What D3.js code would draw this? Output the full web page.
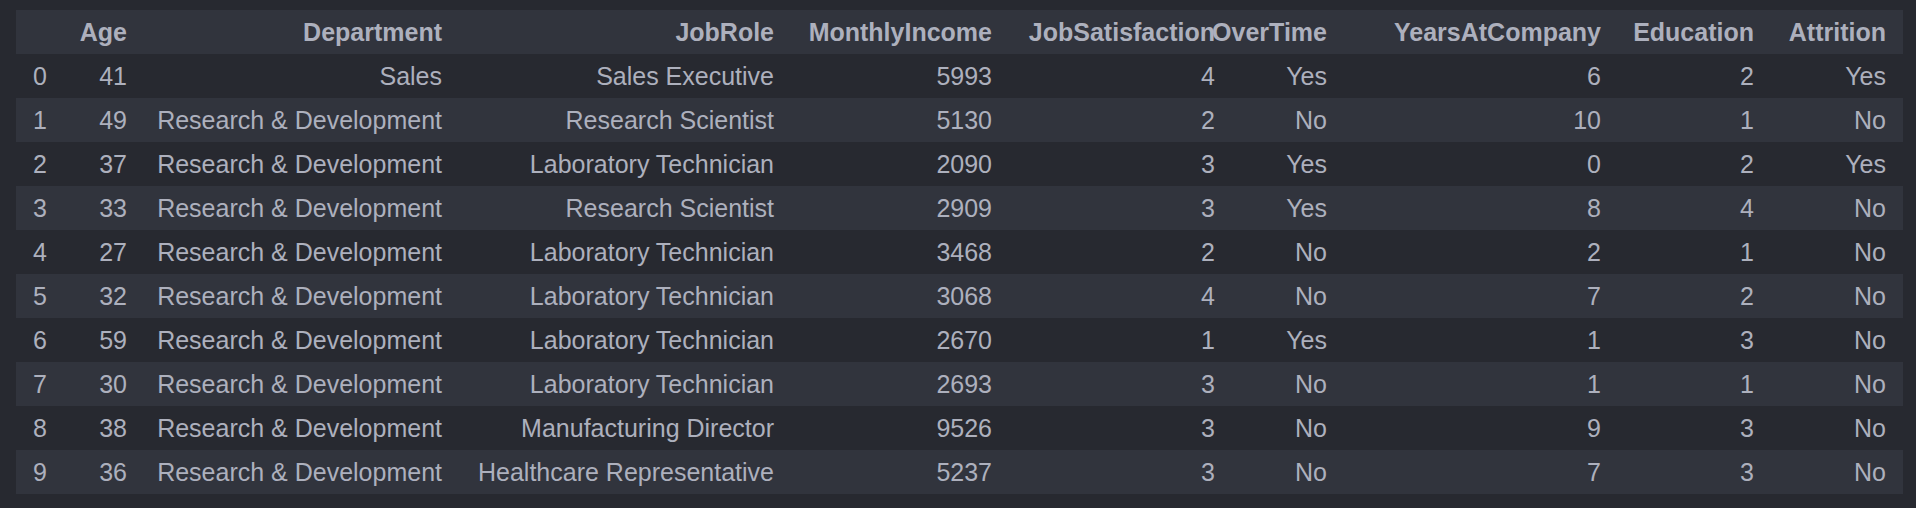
<!DOCTYPE html>
<html><head><meta charset="utf-8">
<script src="https://cdn.jsdelivr.net/npm/d3@7"></script>
<style>body{margin:0;background:#272930;}text{font-family:"Liberation Sans",Arial,sans-serif;}</style>
</head><body><div id="chart"></div>
<script>
const WIDTH = 1916, HEIGHT = 508;

var columns = ["Age","Department","JobRole","MonthlyIncome","JobSatisfaction","OverTime","YearsAtCompany","Education","Attrition"];
var age = [41,49,37,33,27,32,59,30,38,36];
var department = ["Sales","Research & Development","Research & Development","Research & Development","Research & Development","Research & Development","Research & Development","Research & Development","Research & Development","Research & Development"];
var jobRole = ["Sales Executive","Research Scientist","Laboratory Technician","Research Scientist","Laboratory Technician","Laboratory Technician","Laboratory Technician","Laboratory Technician","Manufacturing Director","Healthcare Representative"];
var monthlyIncome = [5993,5130,2090,2909,3468,3068,2670,2693,9526,5237];
var jobSatisfaction = [4,2,3,3,2,4,1,3,3,3];
var overTime = ["Yes","No","Yes","Yes","No","No","Yes","No","No","No"];
var yearsAtCompany = [6,10,0,8,2,7,1,1,9,7];
var education = [2,1,2,4,1,2,3,1,3,3];
var attrition = ["Yes","No","Yes","No","No","No","No","No","No","No"];

var colRight = [127,442,774,992,1215,1327,1601,1754,1886];

var rows = d3.range(age.length).map(function(i){
  return [age[i],department[i],jobRole[i],monthlyIncome[i],jobSatisfaction[i],overTime[i],yearsAtCompany[i],education[i],attrition[i]];
});

var svg = d3.select("#chart").append("svg").attr("width", WIDTH).attr("height", HEIGHT);

var y = d3.scaleBand().domain(d3.range(-1, rows.length)).range([10, 494]);

// stripes
svg.selectAll("rect.row").data(y.domain()).enter().append("rect")
  .attr("x", 16).attr("width", 1887)
  .attr("y", function(d){ return y(d); }).attr("height", y.bandwidth())
  .attr("fill", function(d){ return (d % 2 === 0) ? "#272930" : "#31343d"; });

// header
svg.selectAll("text.head").data(columns).enter().append("text")
  .attr("x", function(d,i){ return colRight[i]; })
  .attr("y", y(-1) + y.bandwidth()/2).attr("dy", "0.36em")
  .attr("text-anchor", "end").attr("font-size", 25).attr("font-weight", "bold")
  .attr("fill", "#adb0bd").text(function(d){ return d; });

var g = svg.selectAll("g.row").data(rows).enter().append("g")
  .attr("transform", function(d,i){ return "translate(0," + (y(i) + y.bandwidth()/2) + ")"; });

g.append("text").attr("x", 33).attr("dy", "0.36em").attr("font-size", 25)
  .attr("fill", "#adb0bd").text(function(d,i){ return i; });

g.selectAll("text.cell").data(function(d){ return d; }).enter().append("text")
  .attr("x", function(d,i){ return colRight[i]; }).attr("dy", "0.36em")
  .attr("text-anchor", "end").attr("font-size", 25)
  .attr("fill", "#adb0bd").text(function(d){ return d; });
</script></body></html>
